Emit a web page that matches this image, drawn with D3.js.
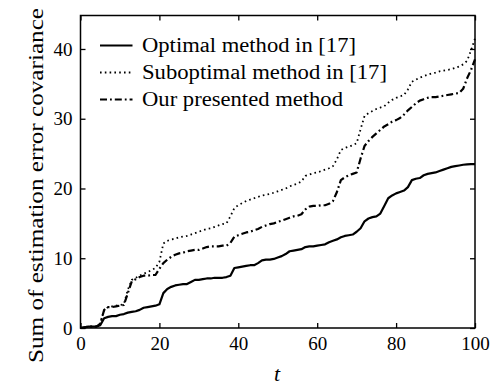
<!DOCTYPE html>
<html><head><meta charset="utf-8">
<script src="https://cdn.jsdelivr.net/npm/d3@7"></script>
<style>body{margin:0;background:#fff}svg{display:block}text{font-family:"Liberation Serif","Tinos","Nimbus Roman","DejaVu Serif",serif;fill:#000}</style>
</head><body>
<svg id="c" width="498" height="385"></svg>
<script>
const tValues = d3.range(0, 101);
const optimal = [0,0.1,0.2,0.2,0.2,0.4,1.4,1.6,1.7,1.7,1.9,2.0,2.2,2.3,2.4,2.6,2.9,3.0,3.1,3.2,3.4,5.0,5.6,5.9,6.1,6.2,6.3,6.3,6.6,6.9,6.9,7.0,7.1,7.1,7.2,7.2,7.2,7.3,7.5,8.6,8.7,8.8,8.9,9.0,9.0,9.3,9.7,9.8,9.8,9.9,10.1,10.3,10.6,11.0,11.1,11.2,11.3,11.6,11.7,11.7,11.8,11.9,12.0,12.3,12.5,12.7,13.0,13.2,13.3,13.4,13.8,14.3,15.3,15.7,15.9,16.0,16.4,17.5,18.6,19.0,19.3,19.5,19.7,20.2,21.2,21.4,21.5,21.9,22.1,22.2,22.3,22.5,22.7,22.9,23.1,23.2,23.3,23.4,23.45,23.5,23.5];
const suboptimal = [0,0.1,0.2,0.2,0.2,0.6,2.6,3.0,3.1,3.2,3.3,3.4,5.5,6.9,7.2,7.5,7.8,8.0,8.3,8.6,9.5,12.1,12.5,12.7,12.8,13.0,13.1,13.2,13.4,13.6,13.8,14.0,14.2,14.3,14.5,14.7,14.9,15.0,16.0,17.2,17.6,17.9,18.2,18.4,18.6,18.8,19.0,19.1,19.2,19.4,19.6,19.8,20.0,20.3,20.5,20.7,21.0,21.8,22.0,22.2,22.3,22.5,22.7,22.9,23.2,24.2,25.5,25.8,26.0,26.2,26.5,28.5,30.4,30.8,31.1,31.4,31.6,31.8,32.3,32.7,33.0,33.2,33.4,34.2,35.3,35.6,35.9,36.1,36.3,36.5,36.6,36.8,36.9,37.0,37.1,37.3,37.5,37.8,38.3,39.8,41.5];
const presented = [0,0.1,0.2,0.2,0.2,0.6,2.6,3.0,3.0,3.1,3.2,3.3,5.0,6.7,7.0,7.3,7.5,7.5,7.6,7.6,8.5,9.3,9.8,10.2,10.5,10.7,10.8,11.0,11.1,11.2,11.2,11.4,11.6,11.7,11.7,11.7,11.8,11.8,12.2,13.1,13.3,13.5,13.7,13.8,14.0,14.2,14.5,14.7,14.9,15.0,15.2,15.4,15.6,15.8,16.0,16.1,16.3,17.0,17.4,17.5,17.5,17.6,17.6,17.8,18.2,19.5,21.2,21.6,21.9,22.1,22.3,24.3,26.1,26.8,27.4,27.9,28.4,28.9,29.2,29.6,29.8,30.1,30.6,31.2,31.7,32.2,32.6,32.8,33.0,33.1,33.1,33.2,33.3,33.4,33.5,33.6,33.7,34.3,35.8,37.0,38.5];
const xTicks = [0,20,40,60,80,100];
const yTicks = [0,10,20,30,40];
const seriesNames = ["Optimal method in [17]","Suboptimal method in [17]","Our presented method"];
const seriesData = [optimal, suboptimal, presented];
const seriesDash = [null, "1.6,3.2", "7,3,1.8,3"];
const seriesWidth = [2.2, 1.8, 2.2];
const legendTextLen = [214, 245, 201];

const svg = d3.select("#c");
const L = 80.5, R = 475, T = 15.5, B = 328;
const x = d3.scaleLinear().domain([0,100]).range([L,R]);
const y = d3.scaleLinear().domain([0,44.8]).range([B,T]);

const line = d3.line().x((d,i)=>x(tValues[i])).y(d=>y(d));
seriesData.forEach((s,k)=>{
  svg.append("path").datum(s).attr("d",line).attr("fill","none").attr("stroke","#000")
    .attr("stroke-width",seriesWidth[k]).attr("stroke-dasharray",seriesDash[k]).attr("stroke-linejoin","round");
});

svg.append("rect").attr("x",L).attr("y",T).attr("width",R-L).attr("height",B-T)
  .attr("fill","none").attr("stroke","#000").attr("stroke-width",1.5);

const tl = 5;
const axB = svg.append("g").attr("transform",`translate(0,${B})`).call(d3.axisBottom(x).tickValues(xTicks).tickSizeInner(-tl).tickSizeOuter(0).tickPadding(9));
const axL = svg.append("g").attr("transform",`translate(${L},0)`).call(d3.axisLeft(y).tickValues(yTicks).tickSizeInner(-tl).tickSizeOuter(0).tickPadding(8));
const axT = svg.append("g").attr("transform",`translate(0,${T})`).call(d3.axisTop(x).tickValues(xTicks).tickSizeInner(-tl).tickSizeOuter(0).tickFormat(""));
const axR = svg.append("g").attr("transform",`translate(${R},0)`).call(d3.axisRight(y).tickValues(yTicks).tickSizeInner(-tl).tickSizeOuter(0).tickFormat(""));
[axB,axL,axT,axR].forEach(a=>{
  a.attr("font-family",null);
  a.select(".domain").remove();
  a.selectAll(".tick line").attr("stroke","#000").attr("stroke-width",1.3);
  a.selectAll("text").attr("font-size",19).attr("fill","#000");
});
axB.selectAll("text").attr("dy","0.71em");

svg.append("text").attr("transform","translate(43,185.5) rotate(-90)").attr("text-anchor","middle")
  .attr("font-size",22).attr("textLength",355).attr("lengthAdjust","spacingAndGlyphs")
  .text("Sum of estimation error covariance");
svg.append("text").attr("x",277).attr("y",381).attr("text-anchor","middle")
  .attr("font-size",22).attr("font-style","italic").text("t");

const lg = svg.append("g");
seriesNames.forEach((n,k)=>{
  const yy = 45.5 + k*27;
  lg.append("line").attr("x1",100).attr("x2",132.5).attr("y1",yy).attr("y2",yy).attr("stroke","#000")
    .attr("stroke-width",seriesWidth[k]).attr("stroke-dasharray",seriesDash[k]);
  lg.append("text").attr("x",142).attr("y",yy+6.5).attr("font-size",20)
    .attr("textLength",legendTextLen[k]).attr("lengthAdjust","spacingAndGlyphs").text(n);
});
</script>
</body></html>
